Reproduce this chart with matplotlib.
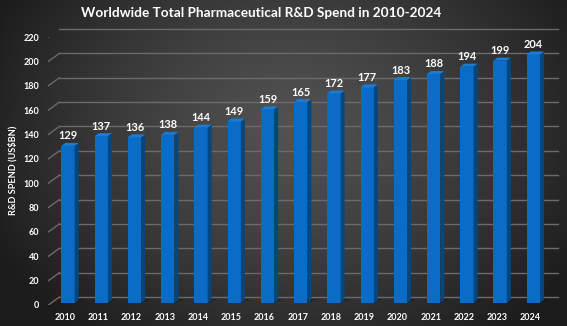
import numpy as np
import matplotlib
matplotlib.use("Agg")
import matplotlib.pyplot as plt
import matplotlib.transforms as mtransforms
from matplotlib.patches import Polygon

years = ["2010", "2011", "2012", "2013", "2014", "2015", "2016", "2017",
         "2018", "2019", "2020", "2021", "2022", "2023", "2024"]
spend = [129, 137, 136, 138, 144, 149, 159, 165, 172, 177, 183, 188, 194, 199, 204]
yticks = list(range(0, 221, 20))
title = "Worldwide Total Pharmaceutical R&D Spend in 2010-2024"
ylabel = "R&D SPEND (US$BN)"

FONT = "Lato"
W, H = 567, 326
fig = plt.figure(figsize=(W / 100, H / 100), dpi=100)

# background radial gradient
bg = fig.add_axes([0, 0, 1, 1])
yy, xx = np.mgrid[0:H, 0:W]
cx, cy = 290, 130
r = np.sqrt(((xx - cx) / 330.0) ** 2 + ((yy - cy) / 260.0) ** 2)
r = np.clip(r, 0, 1)
c0, c1 = 0.32, 0.11
g = c0 + (c1 - c0) * r ** 1.3
img = np.dstack([g, g, g])
bg.imshow(img, aspect="auto", extent=[0, 1, 0, 1])
bg.set_axis_off()

# main axes (front plane)
left_px, right_px = 48.4, 547.0
y0_px, ytop_px = 305.0, 37.0
ax = fig.add_axes([left_px / W, (H - y0_px) / H, (right_px - left_px) / W,
                   (y0_px - ytop_px) / H])
ax.set_xlim(-0.5, len(years) - 0.5)
ax.set_ylim(0, 220)
ax.patch.set_alpha(0)
for s in ax.spines.values():
    s.set_visible(False)

back = ax.transData + mtransforms.ScaledTranslation(0.11, 0.08, fig.dpi_scale_trans)
barT = ax.transData + mtransforms.ScaledTranslation(0.03, 0.02, fig.dpi_scale_trans)

grid_col = "#6b6b6b"
ident = mtransforms.IdentityTransform()
for t in yticks:
    ax.plot([-0.5, len(years) - 0.5], [t, t], color=grid_col, lw=1.0,
            transform=back, zorder=1, clip_on=False)
    p0 = ax.transData.transform((-0.5, t))
    p1 = back.transform((-0.5, t))
    ax.add_line(plt.Line2D([p0[0], p1[0]], [p0[1], p1[1]], color=grid_col,
                           lw=1.0, transform=ident, zorder=1))

x = np.arange(len(years))
bw = 0.4
front_col = "#0a6cc6"
side_col = "#06467f"
top_col = "#1b7bd2"
dpx, dpy = 4.0, 3.0

ax.bar(x, spend, width=bw, color=front_col, transform=barT, zorder=3,
       linewidth=0)

for xi, v in zip(x, spend):
    bl = barT.transform((xi - bw / 2, 0))
    br = barT.transform((xi + bw / 2, 0))
    tl = barT.transform((xi - bw / 2, v))
    tr = barT.transform((xi + bw / 2, v))
    side = Polygon([br, br + [dpx, dpy], tr + [dpx, dpy], tr], closed=True,
                   facecolor=side_col, edgecolor="none", transform=ident, zorder=3)
    top = Polygon([tl, tl + [dpx, dpy], tr + [dpx, dpy], tr], closed=True,
                  facecolor=top_col, edgecolor="none", transform=ident, zorder=3)
    shadow = Polygon([br, br + [dpx + 6, dpy + 1], bl + [dpx + 6, dpy + 1], bl],
                     closed=True, facecolor="black", alpha=0.25,
                     edgecolor="none", transform=ident, zorder=2)
    ax.add_patch(shadow)
    ax.add_patch(side)
    ax.add_patch(top)
    ax.annotate(str(v), xy=(xi, v), xycoords=barT, xytext=(0, 4.5),
                textcoords="offset pixels", ha="center", va="bottom",
                color="white", fontsize=7.9, fontweight="bold",
                family=FONT, zorder=5)

ax.set_xticks(x)
ax.set_xticklabels(years, color="white", fontsize=6.5, fontweight="bold",
                   family=FONT)
ax.set_yticks(yticks)
ax.set_yticklabels([str(t) for t in yticks], color="white", fontsize=6.5,
                   fontweight="bold", family=FONT)
ax.tick_params(axis="both", length=0)
ax.tick_params(axis="y", pad=6.5)
ax.tick_params(axis="x", pad=5.5)

fig.text(13 / W, (H - 170) / H, ylabel, rotation=90, ha="center", va="center",
         color="white", fontsize=6.6, fontweight="bold", family=FONT)
fig.text(261 / W, (H - 13) / H, title, ha="center", va="center",
         color="white", fontsize=9.8, fontweight="bold", family=FONT)

fig.savefig("out.png", dpi=100)
